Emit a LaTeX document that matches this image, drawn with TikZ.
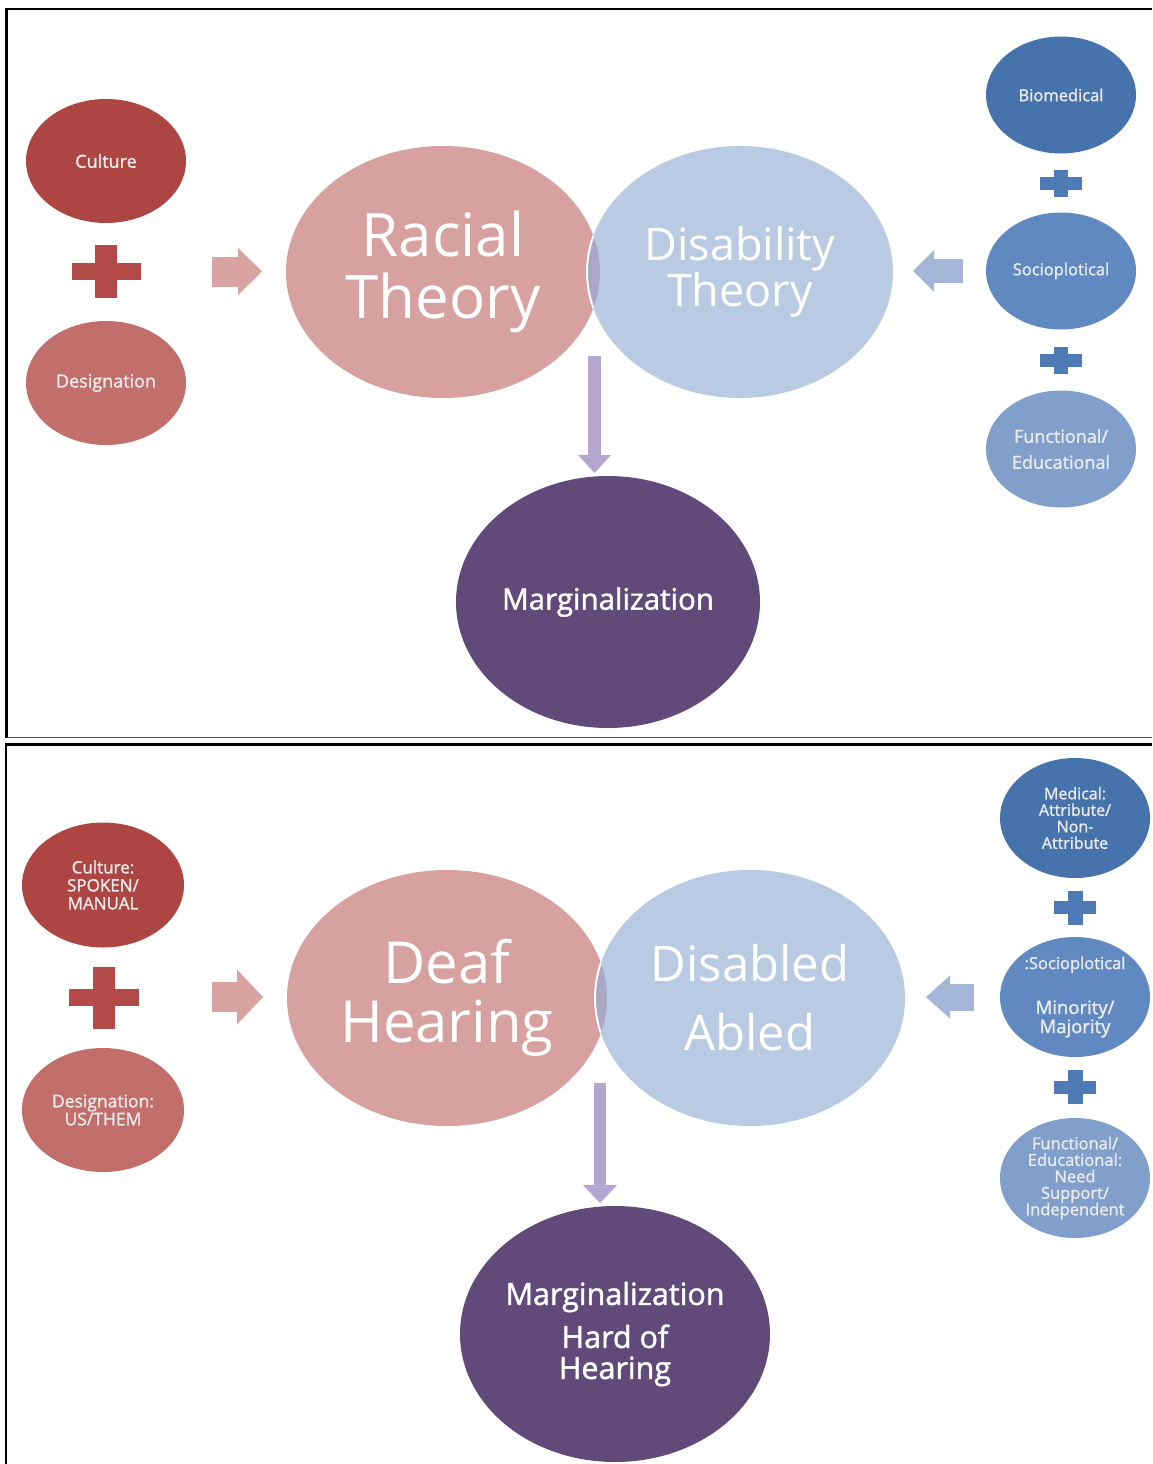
\documentclass[tikz,border=0pt]{standalone}
\usepackage{fontspec}
\setmainfont{Open Sans}
\newfontfamily\semib[FakeBold=1.4]{Open Sans}
\usetikzlibrary{shapes.geometric,arrows.meta}
\definecolor{redA}{HTML}{AD4642}
\definecolor{redB}{HTML}{C26E6B}
\definecolor{redplus}{HTML}{B44A47}
\definecolor{pinkarrow}{HTML}{D9A3A1}
\definecolor{pinkbig}{HTML}{D6A19F}
\definecolor{bluebig}{HTML}{B9CBE3}
\definecolor{lens}{HTML}{ABA7C6}
\definecolor{purplearrow}{HTML}{B5A6CF}
\definecolor{purpleA}{HTML}{614A7A}
\definecolor{blueA}{HTML}{4673AB}
\definecolor{blueB}{HTML}{6189C1}
\definecolor{blueC}{HTML}{819FCB}
\definecolor{blueplus}{HTML}{4E7BB5}
\definecolor{bluearrow}{HTML}{A3B6D8}
\newcommand\fsz[2]{\fontsize{#1pt}{#2pt}\selectfont}
\begin{document}
\begin{tikzpicture}[x=1pt,y=-1pt,
  blob/.style={ellipse, inner sep=0pt, align=center, text=white!92!black},
  bigblob/.style={ellipse, inner sep=0pt, align=center, text=white},
  framelines/.style={line width=2.4pt, black},
  blockarrow/.style n args={4}{line width=#1, draw=#4,
     -{Triangle[length=#2,width=#3,line width=0pt]}},
  pics/plussign/.style n args={4}{code={
     \fill (-#1,-#2) rectangle (#1,#2);
     \fill (-#3,-#4) rectangle (#3,#4);}}
]
\useasboundingbox (0,0) rectangle (1152,1464);
\fill[white] (0,0) rectangle (1152,1464);

% frames
\draw[framelines] (6.5,737.5) -- (6.5,9) -- (1152,9);
\draw[line width=1.6pt, black!70] (6.5,737.5) -- (1152,737.5);
\draw[framelines] (5.7,1464) -- (5.7,744.5) -- (1152,744.5);

% ================= TOP =================
\node[blob, fill=redA, minimum width=160pt, minimum height=124pt, font=\semib\fsz{18}{22}] (cult) at (106,161) {Culture};
\node[blob, fill=redB, minimum width=160pt, minimum height=124pt, font=\semib\fsz{18}{22}] (desig) at (106,383) {Designation};
\pic[fill=redplus] (plusr1) at (106,271.5) {plussign={34.5}{8.5}{11}{26.5}};

\node[bigblob, fill=pinkbig, minimum width=314pt, minimum height=252pt, font=\fsz{60}{62}] (racial) at (443,272) {Racial\\Theory};
\node[bigblob, fill=bluebig, minimum width=306pt, minimum height=252pt, font=\fsz{45}{46}] (disab) at (740,272) {Disability\\Theory};
\begin{scope}
  \clip (racial.center) ellipse [x radius=157pt, y radius=126pt];
  \fill[lens] (disab.center) ellipse [x radius=153pt, y radius=126pt];
  \draw[white, line width=2pt] (disab.center) ellipse [x radius=153pt, y radius=126pt];
\end{scope}

\node[bigblob, fill=purpleA, minimum width=304pt, minimum height=252pt, font=\semib\fsz{29.5}{34}] (marg) at (608,602) {Marginalization};

\node[blob, fill=blueA, minimum width=150pt, minimum height=117pt, font=\semib\fsz{16.5}{20}] (bio) at (1061,95) {Biomedical};
\node[blob, fill=blueB, minimum width=150pt, minimum height=117pt, font=\semib\fsz{16.5}{20}] (socio) at (1061,271) {Socioplotical};
\node[blob, fill=blueC, minimum width=150pt, minimum height=117pt, font=\semib\fsz{18}{26}] (func) at (1061,449) {Functional/\\Educational};
\pic[fill=blueplus] (plusb1) at (1061,183.5) {plussign={21}{6.5}{7}{13.5}};
\pic[fill=blueplus] (plusb2) at (1061,360.5) {plussign={21}{6.5}{7}{13.5}};

\coordinate (raS) at (212,271.5);
\coordinate (raE) at (262,271.5);
\draw[blockarrow={30pt}{24pt}{47pt}{pinkarrow}] (raS) -- (raE);
\coordinate (laS) at (963,271);
\coordinate (laE) at (913,271);
\draw[blockarrow={24pt}{21pt}{42pt}{bluearrow}] (laS) -- (laE);
\coordinate (daS) at (594.5,356);
\coordinate (daE) at (594.5,473);
\draw[blockarrow={13pt}{18pt}{33pt}{purplearrow}] (daS) -- (daE);

% ================= BOTTOM =================
\node[blob, fill=redA, minimum width=162pt, minimum height=125pt, font=\semib\fsz{17}{18}] (cult2) at (103,885) {Culture:\\SPOKEN/\\MANUAL};
\node[blob, fill=redB, minimum width=162pt, minimum height=124pt, font=\semib\fsz{17.5}{18}] (desig2) at (103,1110) {Designation:\\US/THEM};
\pic[fill=redplus] (plusr2) at (104,997.5) {plussign={35}{8.5}{11}{31}};

\node[bigblob, fill=pinkbig, minimum width=320pt, minimum height=256pt, font=\fsz{58}{59}] (deaf) at (447,998) {Deaf\\Hearing};
\node[bigblob, fill=bluebig, minimum width=310pt, minimum height=256pt, font=\fsz{49}{69}] (disabled) at (750,998) {Disabled\\Abled};
\begin{scope}
  \clip (deaf.center) ellipse [x radius=160pt, y radius=128pt];
  \fill[lens] (disabled.center) ellipse [x radius=155pt, y radius=128pt];
  \draw[white, line width=2pt] (disabled.center) ellipse [x radius=155pt, y radius=128pt];
\end{scope}

\node[bigblob, fill=purpleA, minimum width=310pt, minimum height=256pt, font=\semib\fsz{30.5}{31}] (marg2) at (615,1334) {Marginalization\\[12pt]Hard of\\Hearing};

\node[blob, fill=blueA, minimum width=150pt, minimum height=120pt, font=\semib\fsz{16}{16.5}] (med) at (1075,818) {Medical:\\Attribute/\\Non-\\Attribute};
\node[blob, fill=blueB, minimum width=150pt, minimum height=120pt, font=\semib\fsz{18.5}{18}] (socio2) at (1075,997) {{\fsz{16.5}{18}:Socioplotical}\\[27pt]Minority/\\Majority};
\node[blob, fill=blueC, minimum width=150pt, minimum height=120pt, font=\semib\fsz{16.5}{16.5}] (func2) at (1075,1178) {Functional/\\Educational:\\Need\\Support/\\Independent};
\pic[fill=blueplus] (plusb3) at (1075,907.5) {plussign={21}{6.5}{7.5}{17}};
\pic[fill=blueplus] (plusb4) at (1075,1087) {plussign={21}{6.5}{7.5}{17}};

\coordinate (raS2) at (212,997);
\coordinate (raE2) at (263,997);
\draw[blockarrow={30pt}{26pt}{55pt}{pinkarrow}] (raS2) -- (raE2);
\coordinate (laS2) at (974,997);
\coordinate (laE2) at (926,997);
\draw[blockarrow={27pt}{24pt}{43pt}{bluearrow}] (laS2) -- (laE2);
\coordinate (daS2) at (600,1083);
\coordinate (daE2) at (600,1203);
\draw[blockarrow={12pt}{18pt}{34pt}{purplearrow}] (daS2) -- (daE2);
\end{tikzpicture}
\end{document}
